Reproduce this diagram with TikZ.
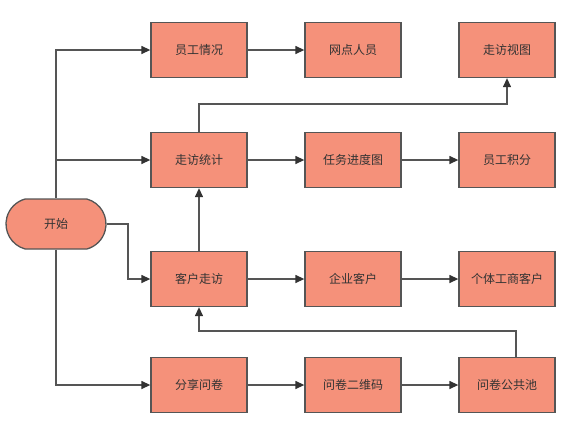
\documentclass[tikz,border=0pt]{standalone}
\usepackage{fontspec}
\newfontfamily\cjk{Noto Sans CJK SC}
\usetikzlibrary{arrows.meta,shapes.misc}
\definecolor{boxfill}{HTML}{F5917A}
\definecolor{boxline}{HTML}{555555}
\definecolor{txt}{HTML}{333333}
\definecolor{tip}{HTML}{333333}
\begin{document}
\begin{tikzpicture}[x=1pt,y=-1pt,
  box/.style={draw=boxline,line width=1.3pt,fill=boxfill,minimum width=96pt,minimum height=55pt,inner sep=0pt,font=\cjk\fontsize{12}{14}\selectfont,text=txt},
  startbox/.style={box,rounded rectangle,rounded rectangle arc length=150,minimum width=100pt,minimum height=50pt},
  conn/.style={draw=boxline,line width=1.3pt,-{Triangle[length=9pt,width=8pt,color=tip]}}]
\useasboundingbox (0,0) rectangle (579,432);
\node[startbox] (s) at (56,224) {开始};
\node[box] (a1) at (199,50) {员工情况};
\node[box] (a2) at (353,50) {网点人员};
\node[box] (a3) at (507,50) {走访视图};
\node[box] (b1) at (199,160) {走访统计};
\node[box] (b2) at (353,160) {任务进度图};
\node[box] (b3) at (507,160) {员工积分};
\node[box] (c1) at (199,279) {客户走访};
\node[box] (c2) at (353,279) {企业客户};
\node[box] (c3) at (507,279) {个体工商客户};
\node[box] (d1) at (199,385) {分享问卷};
\node[box] (d2) at (353,385) {问卷二维码};
\node[box] (d3) at (507,385) {问卷公共池};
\draw[conn] (s.north) |- (a1.west);
\draw[conn] (56,160) -- (b1.west);
\draw[conn] (s.east) -- (128,224) |- (c1.west);
\draw[conn] (s.south) |- (d1.west);
\draw[conn] (a1) -- (a2);
\draw[conn] (b1) -- (b2);
\draw[conn] (b2) -- (b3);
\draw[conn] (c1) -- (c2);
\draw[conn] (c2) -- (c3);
\draw[conn] (d1) -- (d2);
\draw[conn] (d2) -- (d3);
\draw[conn] (c1) -- (b1);
\draw[conn] (b1.north) -- (199,104) -| (a3.south);
\draw[conn] (516,357.5) -- (516,331) -| (c1.south);
\end{tikzpicture}
\end{document}
